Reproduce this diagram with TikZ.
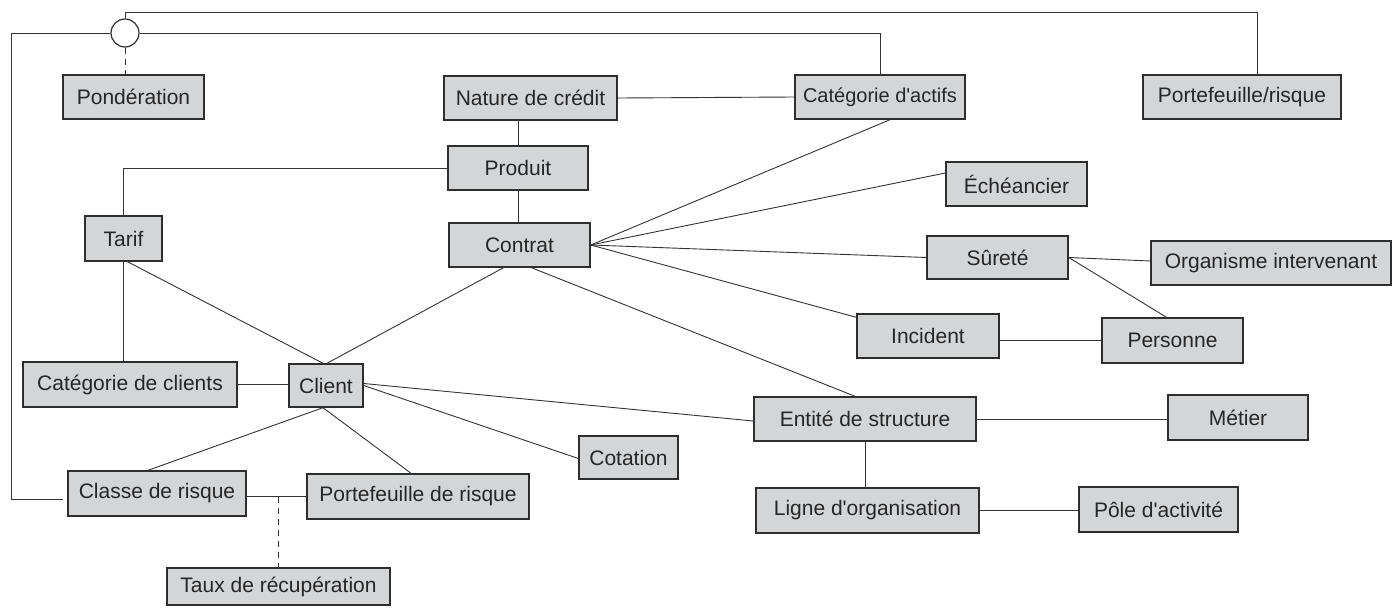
\documentclass[tikz,border=0pt]{standalone}
\usepackage{fontspec}
\setmainfont{Liberation Sans}
\usetikzlibrary{calc}
\definecolor{boxfill}{HTML}{D4D5D7}
\definecolor{boxline}{HTML}{2E2E2E}
\definecolor{conn}{HTML}{333333}
\definecolor{txt}{HTML}{262626}
\begin{document}
\begin{tikzpicture}[x=1pt,y=-1pt,
  box/.style={draw=boxline,line width=1.4pt,fill=boxfill,inner sep=0pt,
    text=txt,font=\fontsize{21}{25}\selectfont},
  conn/.style={draw=conn,line width=0.9pt},
  dconn/.style={conn,dashed,dash pattern=on 6pt off 5pt}]
\useasboundingbox (0,0) rectangle (1393,608);
% nodes
\node[box,minimum width=141pt,minimum height=44pt] (pond) at (133.5,97) {Pondération};
\node[box,minimum width=173pt,minimum height=44pt] (nat) at (530.5,98) {Nature de crédit};
\node[box,minimum width=170pt,minimum height=44pt,font=\fontsize{20}{24}\selectfont] (cata) at (880,97) {Catégorie d\textquotesingle actifs};
\node[box,minimum width=198pt,minimum height=44pt] (pfr) at (1242,97) {Portefeuille/risque};
\node[box,minimum width=140pt,minimum height=44pt] (prod) at (518,168) {Produit};
\node[box,minimum width=77pt,minimum height=45pt] (tarif) at (123.5,238.5) {Tarif};
\node[box,minimum width=141pt,minimum height=44pt] (contrat) at (519.5,245) {Contrat};
\node[box,minimum width=141pt,minimum height=44pt] (ech) at (1016.5,184) {Échéancier};
\node[box,minimum width=141pt,minimum height=43pt] (surete) at (997.5,257.5) {Sûreté};
\node[box,minimum width=240pt,minimum height=44pt] (org) at (1271,263) {Organisme intervenant};
\node[box,minimum width=142pt,minimum height=44pt] (incident) at (928,336) {Incident};
\node[box,minimum width=141pt,minimum height=45pt] (personne) at (1172.5,340.5) {Personne};
\node[box,minimum width=214pt,minimum height=45pt] (catcl) at (130,384.5) {Catégorie de clients};
\node[box,minimum width=74pt,minimum height=43pt] (client) at (326,385.5) {Client};
\node[box,minimum width=222pt,minimum height=44pt] (entite) at (865,419) {Entité de structure};
\node[box,minimum width=140pt,minimum height=45pt] (metier) at (1238,417.5) {Métier};
\node[box,minimum width=99pt,minimum height=43pt] (cotation) at (628.5,457.5) {Cotation};
\node[box,minimum width=178pt,minimum height=45pt] (classe) at (157,493.5) {Classe de risque};
\node[box,minimum width=222pt,minimum height=45pt] (pdr) at (418,496.5) {Portefeuille de risque};
\node[box,minimum width=223pt,minimum height=37pt] (taux) at (278.5,586.5) {Taux de récupération};
\node[box,minimum width=223pt,minimum height=45pt] (ligne) at (867.5,510.5) {Ligne d\textquotesingle organisation};
\node[box,minimum width=159pt,minimum height=45pt] (pole) at (1158.5,509.5) {Pôle d\textquotesingle activité};
\node[draw=boxline,line width=1.2pt,fill=white,circle,minimum size=28pt,inner sep=0pt] (circ) at (125,33) {};
% connectors from the circle
\coordinate (tr) at (1257,12);
\draw[conn] (circ.north) |- (tr) -- (tr |- pfr.north);
\draw[conn] (circ.east) -| (cata.north);
\coordinate (lf) at (11,499);
\draw[conn] (circ.west) -| (lf) -- ([xshift=-4pt]classe.west |- lf);
\draw[dconn] (circ.south) -- (circ.south |- pond.north);
% top part
\draw[conn] (nat.east) -- (cata.west);
\draw[conn] (prod.north) -- (prod.north |- nat.south);
\draw[conn] (prod.south) -- (prod.south |- contrat.north);
\draw[conn] (prod.west) -| (tarif.north);
\draw[conn] (tarif.south) -- (tarif.south |- catcl.north);
% contrat fan
\draw[conn] (contrat.east) -- ([xshift=10pt]cata.south);
\draw[conn] (contrat.east) -- ([yshift=11pt]ech.west);
\draw[conn] (contrat.east) -- (surete.west);
\draw[conn] (contrat.east) -- ([yshift=-4pt]incident.north west);
\draw[conn] ([xshift=12pt]contrat.south) -- ([xshift=-10pt]entite.north);
\draw[conn] ([xshift=-16pt]contrat.south) -- ([xshift=1pt]client.north);
\draw[conn] ([xshift=4pt]tarif.south) -- ([xshift=-3pt]client.north);
% client
\draw[conn] (catcl.east) -- (catcl.east -| client.west);
\draw[conn] ([yshift=2pt]client.east) -- ([yshift=-2pt]entite.west);
\draw[conn] (client.east) -- ([yshift=-1pt]cotation.west);
\draw[conn] ([xshift=-3pt]client.south) -- ([xshift=-9pt]classe.north);
\draw[conn] ([xshift=-3pt]client.south) -- ([xshift=-7pt]pdr.north);
\draw[conn] (pdr.west -| classe.east) -- (pdr.west);
\coordinate (tm) at ($(pdr.west -| classe.east)!0.53!(pdr.west)$);
\draw[dconn] (tm) -- (tm |- taux.north);
% right part
\draw[conn] (surete.east) -- ([yshift=2pt]org.west);
\draw[conn] (surete.east) -- ([xshift=-6pt]personne.north);
\draw[conn] (personne.west -| incident.east) -- (personne.west);
\draw[conn] (entite.east) -- (entite.east -| metier.west);
\draw[conn] (entite.south) -- (entite.south |- ligne.north);
\draw[conn] (ligne.east) -- (ligne.east -| pole.west);
\end{tikzpicture}
\end{document}
